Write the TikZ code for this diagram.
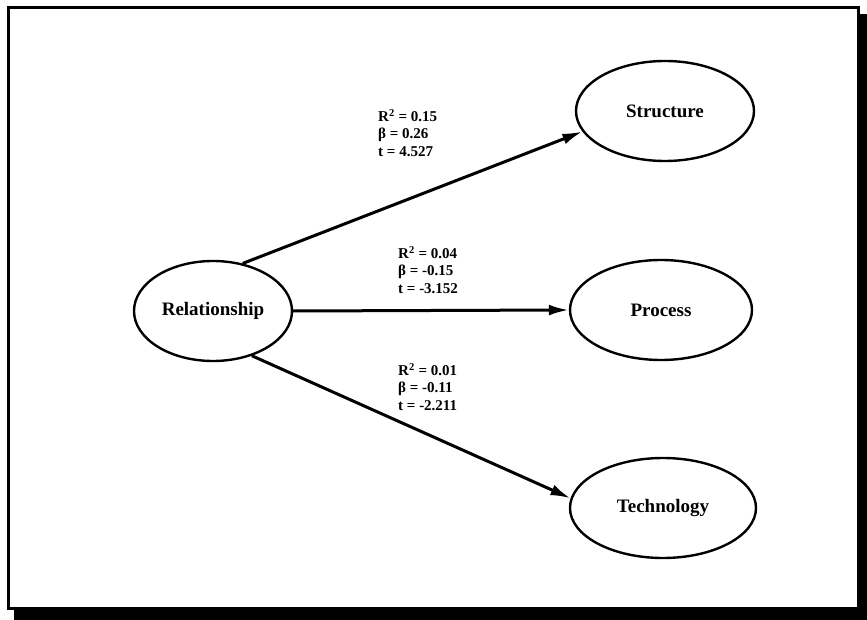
\documentclass[tikz,border=0pt]{standalone}
\usepackage{fontspec}
\setmainfont{Liberation Serif}
\usetikzlibrary{shapes.geometric,arrows.meta}
\begin{document}
\begin{tikzpicture}[x=1pt,y=-1pt,
  construct/.style={draw,line width=2.4pt,ellipse,minimum width=#1,minimum height=100pt,inner sep=0pt,font=\fontsize{19}{19}\selectfont\bfseries},
  path/.style={line width=3pt,-{Latex[length=20pt,width=11pt]}},
  stats/.style={align=left,anchor=north west,inner sep=0pt,font=\fontsize{15}{17.5}\selectfont\bfseries}]
\useasboundingbox (0,0) rectangle (867,620);
% frame with drop shadow
\fill[black] (14,600) rectangle (867,620);
\fill[black] (855,14) rectangle (867,620);
\fill[white] (8,8) rectangle (858,608);
\draw[line width=3pt] (8,8) rectangle (858,608);
% constructs
\node[construct=158pt] (rel) at (213,311) {Relationship};
\node[construct=178pt] (str) at (665,111) {Structure};
\node[construct=182pt] (pro) at (661,310) {Process};
\node[construct=186pt] (tec) at (663,508) {Technology};
% paths
\draw[path] (rel.58) -- (str.194);
\draw[path] (rel.east) -- (pro.west);
\draw[path] (rel.-49) -- (tec.174);
% path coefficients
\node[stats] (s1) at (378,109) {R\textsuperscript{2} = 0.15\\β = 0.26\\t = 4.527};
\node[stats] (s2) at (398,246) {R\textsuperscript{2} = 0.04\\β = -0.15\\t = -3.152};
\node[stats] (s3) at (398,363) {R\textsuperscript{2} = 0.01\\β = -0.11\\t = -2.211};
\end{tikzpicture}
\end{document}
